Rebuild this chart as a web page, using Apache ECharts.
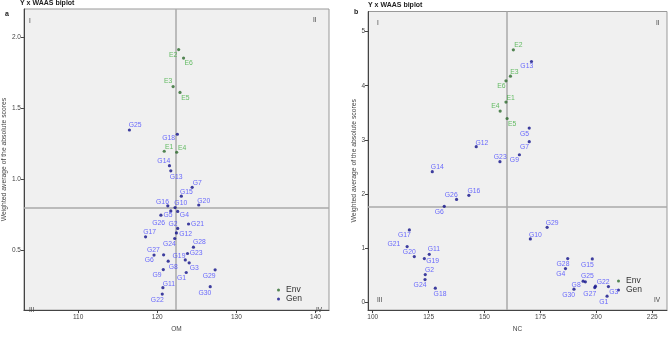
<!DOCTYPE html>
<html><head><meta charset="utf-8">
<script src="https://cdn.jsdelivr.net/npm/echarts@6/dist/echarts.min.js"></script>
<style>html,body{margin:0;padding:0;background:#fff}#c{width:669px;height:338px}</style>
</head><body><div id="c"></div>
<script>
// ---------- Panel a (OM) ----------
const envNamesA = ['E1','E2','E3','E4','E5','E6'];
const envXA = [120.88,122.70,122.00,122.45,122.87,123.32];
const envYA = [1.197,1.914,1.653,1.190,1.612,1.854];
const genNamesA = ['G1','G2','G3','G4','G5','G6','G7','G8','G9','G10','G11','G12','G13','G14','G15','G16','G17','G18','G19','G20','G21','G22','G23','G24','G25','G26','G27','G28','G29','G30'];
const genXA = [123.66,122.58,124.03,122.58,121.71,119.59,124.41,121.38,120.76,122.25,120.71,122.42,121.71,121.54,123.04,121.33,118.52,122.54,123.54,125.24,123.95,120.63,123.82,122.20,116.48,120.46,120.80,124.57,127.31,126.69];
const genYA = [0.342,0.653,0.410,0.773,0.776,0.465,0.943,0.422,0.363,0.800,0.235,0.621,1.059,1.095,0.880,0.812,0.594,1.317,0.431,0.818,0.684,0.190,0.476,0.582,1.347,0.746,0.467,0.521,0.361,0.242];
const refXA = 122.33, refYA = 0.798;
const xTicksA = [110,120,130,140];
const yTicksA = [0.5,1.0,1.5,2.0];

// ---------- Panel b (NC) ----------
const envNamesB = ['E1','E2','E3','E4','E5','E6'];
const envXB = [159.6,162.9,161.6,157.0,160.1,159.6];
const envYB = [3.698,4.662,4.177,3.532,3.396,4.091];
const genNamesB = genNamesA;
const genXB = [204.8,123.5,205.4,186.2,170.0,132.0,170.0,194.1,165.6,170.5,125.3,146.3,171.0,126.65,198.2,143.0,116.4,128.0,123.1,118.6,115.4,199.6,156.9,123.4,195.1,137.5,199.3,187.2,178.0,190.0];
const genYB = [0.117,0.516,0.295,0.627,3.219,1.775,2.967,0.393,2.727,1.174,0.890,2.875,4.447,2.414,0.805,1.977,1.340,0.264,0.811,0.848,1.032,0.301,2.598,0.424,0.381,1.903,0.276,0.811,1.388,0.246];
const refXB = 160.1, refYB = 1.763;
const xTicksB = [100,125,150,175,200,225];
const yTicksB = [0,1,2,3,4,5];

// label placement (style only): offsets of label centre from point, px
const offA = {E1:[5,-4.5],E2:[-5.5,5.5],E3:[-5,-5],E4:[5.5,-4.5],E5:[5.5,5.5],E6:[5,5.5],
 G1:[-4.7,5.3],G2:[-4.7,-4.3],G3:[5,5.7],G4:[6.7,3.7],G5:[-2.7,4.5],G6:[-4.7,5.3],G7:[5,-4.3],G8:[5,6],G9:[-6.3,5.3],G10:[5.7,-4],
 G11:[6,-4],G12:[9.3,1],G13:[5.3,6],G14:[-5.7,-5],G15:[5,-3.7],G16:[-5.3,-4],G17:[4,-4.3],G18:[-8.7,4],G19:[-6.3,-3.7],G20:[5,-4.3],
 G21:[9,0.3],G22:[-5,6],G23:[8.7,-0.7],G24:[-5.3,5.7],G25:[5.7,-4.7],G26:[-2.3,8.3],G27:[-10.3,-4.3],G28:[6,-4.7],G29:[-6,6],G30:[-5.3,6]};
const offB = {E1:[4.7,-4.3],E2:[5,-4.7],E3:[4,-4.3],E4:[-4.7,-4.7],E5:[5,5.7],E6:[-4.7,5.3],
 G1:[-3.3,5.7],G2:[4.3,-4.7],G3:[5.3,5.7],G4:[-4.7,5.3],G5:[-4.7,6],G6:[-5,5.7],G7:[-4.7,5],G8:[-7,3.7],G9:[-5,5.3],G10:[5,-4],
 G11:[4.7,-4.7],G12:[5.7,-3.3],G13:[-4.7,5],G14:[5,-4.7],G15:[-5,6.3],G16:[5,-4],G17:[-5,5.3],G18:[4.7,5.7],G19:[8.3,2.7],G20:[-5,-4.7],
 G21:[-13.3,-2.3],G22:[7.7,-4],G23:[0.3,-4.3],G24:[-5,6],G25:[2,-5.7],G26:[-5.3,-4.3],G27:[-5,6.3],G28:[-4.7,5.3],G29:[5,-4.3],G30:[-5.3,5.7]};

const FONT = 'Liberation Sans, Arial, sans-serif';
const ENV_PT = '#2c6a2c', ENV_LB = '#3fae3f', GEN_PT = '#10108a', GEN_LB = '#4646ff';

function pts(names, xs, ys, off) {
  return names.map((n, i) => ({ value: [xs[i], ys[i]], name: n, label: { offset: off[n] || [0, 0] } }));
}
function scatter(name, idx, data, ptColor, lbColor, ref) {
  const s = {
    name, type: 'scatter', xAxisIndex: idx, yAxisIndex: idx, data,
    symbol: 'circle', symbolSize: 3.2, itemStyle: { color: ptColor },
    label: { show: true, position: 'inside', formatter: p => p.name, color: lbColor,
      fontSize: 6.8, fontFamily: FONT, align: 'center', verticalAlign: 'middle' },
    emphasis: { disabled: true }, z: 5
  };
  if (ref) {
    s.markLine = { silent: true, symbol: 'none', animation: false, label: { show: false },
      lineStyle: { color: '#aaaaaa', width: 1.5, type: 'solid' }, z: 1,
      data: [{ xAxis: ref[0] }, { yAxis: ref[1] }] };
  }
  return s;
}
function xAxis(idx, min, max, ticks, name, gap) {
  return { gridIndex: idx, type: 'value', min, max, name, nameLocation: 'middle', nameGap: gap,
    nameTextStyle: { fontSize: 6.5, color: '#444', fontFamily: FONT },
    axisLine: { show: true, onZero: false, lineStyle: { color: '#444', width: 1 } },
    axisTick: { show: true, length: 3, customValues: ticks, lineStyle: { color: '#444' } },
    axisLabel: { customValues: ticks, fontSize: 6.5, color: '#444', margin: 4, fontFamily: FONT },
    splitLine: { show: false } };
}
function yAxis(idx, min, max, ticks, gap, fmt) {
  return { gridIndex: idx, type: 'value', min, max, name: 'Weighted average of the absolute scores',
    nameLocation: 'middle', nameGap: gap, nameRotate: 90,
    nameTextStyle: { fontSize: 6.8, color: '#444', fontFamily: FONT },
    axisLine: { show: true, onZero: false, lineStyle: { color: '#444', width: 1 } },
    axisTick: { show: true, length: 3, customValues: ticks, lineStyle: { color: '#444' } },
    axisLabel: { customValues: ticks, fontSize: 6.5, color: '#444', margin: 3, fontFamily: FONT, formatter: fmt },
    splitLine: { show: false } };
}
function txt(x, y, t, opts) {
  return Object.assign({ type: 'text', left: x, top: y, silent: true,
    style: { text: t, fontSize: 6.5, fill: '#444', fontFamily: FONT } }, opts || {});
}

const chart = echarts.init(document.getElementById('c'), null, { renderer: 'canvas' });
chart.setOption({
  animation: false,
  backgroundColor: '#ffffff',
  grid: [
    { left: 19.5, right: 340, top: 9, bottom: 17, show: true, backgroundColor: '#f0f0f0', borderColor: '#999', borderWidth: 1 },
    { left: 368, right: 2, top: 11.5, bottom: 27.5, show: true, backgroundColor: '#f0f0f0', borderColor: '#999', borderWidth: 1 }
  ],
  xAxis: [ xAxis(0, 103.15, 141.7, xTicksA, 'OM', 13), xAxis(1, 97.9, 231.6, xTicksB, 'NC', 13) ],
  yAxis: [ yAxis(0, 0.077, 2.2, yTicksA, 15, v => v.toFixed(1)), yAxis(1, -0.14, 5.37, yTicksB, 10, v => String(v)) ],
  legend: [
    { left: 272, top: 280.5, orient: 'vertical', icon: 'circle', itemWidth: 3, itemHeight: 10, itemGap: 0,
      data: ['Env', 'Gen'], textStyle: { fontSize: 8.5, color: '#333', fontFamily: FONT, padding: [0, 0, 0, 1] }, selectedMode: false },
    { left: 612, top: 271.5, orient: 'vertical', icon: 'circle', itemWidth: 3, itemHeight: 10, itemGap: 0,
      data: ['Env', 'Gen'], textStyle: { fontSize: 8.5, color: '#333', fontFamily: FONT, padding: [0, 0, 0, 1] }, selectedMode: false }
  ],
  series: [
    scatter('Env', 0, pts(envNamesA, envXA, envYA, offA), ENV_PT, ENV_LB, [refXA, refYA]),
    scatter('Gen', 0, pts(genNamesA, genXA, genYA, offA), GEN_PT, GEN_LB),
    scatter('Env', 1, pts(envNamesB, envXB, envYB, offB), ENV_PT, ENV_LB, [refXB, refYB]),
    scatter('Gen', 1, pts(genNamesB, genXB, genYB, offB), GEN_PT, GEN_LB)
  ],
  graphic: [
    txt(20, 0, 'Y x WAAS biplot', { style: { text: 'Y x WAAS biplot', fontSize: 7, fontWeight: 'bold', fill: '#222', fontFamily: FONT } }),
    txt(5, 11, 'a', { style: { text: 'a', fontSize: 7, fontWeight: 'bold', fill: '#222', fontFamily: FONT } }),
    txt(368, 1.5, 'Y x WAAS biplot', { style: { text: 'Y x WAAS biplot', fontSize: 7, fontWeight: 'bold', fill: '#222', fontFamily: FONT } }),
    txt(354, 9, 'b', { style: { text: 'b', fontSize: 7, fontWeight: 'bold', fill: '#222', fontFamily: FONT } }),
    txt(29, 18, 'I'), txt(313, 17, 'II'), txt(29, 307, 'III'), txt(316, 307, 'IV'),
    txt(377, 20, 'I'), txt(656, 20, 'II'), txt(377, 297, 'III'), txt(654, 297, 'IV')
  ]
});
</script></body></html>
